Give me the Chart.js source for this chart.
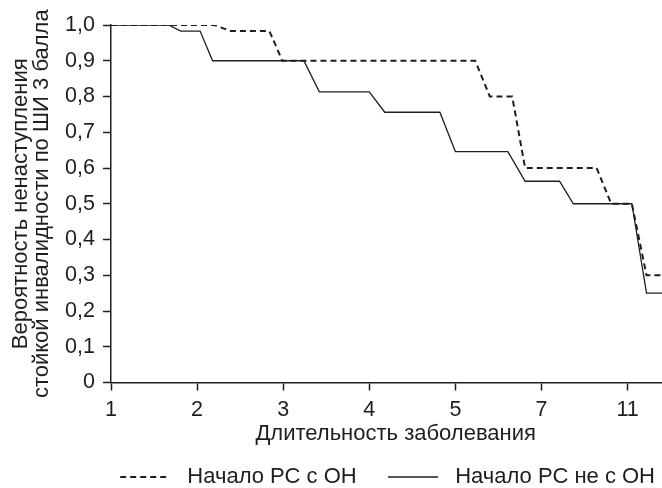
<!DOCTYPE html>
<html>
<head>
<meta charset="utf-8">
<script src="https://cdn.jsdelivr.net/npm/chart.js@4"></script>
<style>
  html, body { margin: 0; padding: 0; background: #fff; }
  #wrap { width: 662px; height: 488px; }
</style>
</head>
<body>
<div id="wrap"><canvas id="c" width="662" height="488"></canvas></div>
<script>
// X tick labels (equally spaced categories of disease duration)
const xTickLabels = ['1', '2', '3', '4', '5', '7', '11'];

// Series 1: "Начало РС с ОН" (dashed) – x in tick-index units
const onsetOnX = [0, 1.20, 1.39, 1.84, 1.99, 4.23, 4.40, 4.66, 4.81, 5.64, 5.81, 6.05, 6.22, 6.40];
const onsetOnY = [1.0, 1.0, 0.983, 0.983, 0.9, 0.9, 0.8, 0.8, 0.6, 0.6, 0.5, 0.5, 0.3, 0.3];

// Series 2: "Начало РС не с ОН" (solid)
const onsetOtherX = [0, 0.67, 0.81, 1.035, 1.18, 2.24, 2.42, 3.0, 3.18, 3.82, 4.0, 4.61, 4.81, 5.21, 5.37, 6.05, 6.22, 6.40];
const onsetOtherY = [1.0, 1.0, 0.983, 0.983, 0.9, 0.9, 0.813, 0.813, 0.756, 0.756, 0.646, 0.646, 0.563, 0.563, 0.5, 0.5, 0.25, 0.25];

const seriesNames = ['Начало РС с ОН', 'Начало РС не с ОН'];
const yTitle = ['Вероятность ненаступления', 'стойкой инвалидности по ШИ 3 балла'];
const xTitle = 'Длительность заболевания';

const toPoints = (xs, ys) => xs.map((x, i) => ({ x: x, y: ys[i] }));

const FONT = '"Liberation Sans", Arial, sans-serif';
const INK = '#1e1e1e';

new Chart(document.getElementById('c'), {
  type: 'line',
  data: {
    datasets: [
      {
        label: seriesNames[0],
        data: toPoints(onsetOnX, onsetOnY),
        borderColor: INK,
        borderWidth: 2,
        borderDash: [6, 4],
        pointRadius: 0,
        tension: 0,
        fill: false
      },
      {
        label: seriesNames[1],
        data: toPoints(onsetOtherX, onsetOtherY),
        borderColor: INK,
        borderWidth: 1.3,
        pointRadius: 0,
        tension: 0,
        fill: false
      }
    ]
  },
  options: {
    responsive: false,
    animation: false,
    devicePixelRatio: 1,
    layout: { padding: { top: 25, right: 0, left: 0, bottom: -10 } },
    plugins: {
      tooltip: { enabled: false },
      legend: {
        position: 'bottom',
        align: 'end',
        labels: {
          color: INK,
          font: { family: FONT, size: 22 },
          usePointStyle: true,
          pointStyle: 'line',
          pointStyleWidth: 50,
          padding: 7,
          generateLabels: (chart) => chart.data.datasets.map((ds, i) => ({
            text: i === 0 ? ' ' + ds.label + '    ' : ' ' + ds.label,
            strokeStyle: ds.borderColor,
            fillStyle: ds.borderColor,
            lineWidth: ds.borderWidth,
            lineDash: ds.borderDash || [],
            pointStyle: 'line',
            hidden: false,
            datasetIndex: i,
            fontColor: INK
          }))
        }
      }
    },
    scales: {
      x: {
        type: 'linear',
        min: 0,
        max: 6.4,
        afterFit: (s) => { s.height = 76.5; },
        border: { display: true, color: INK, width: 1.5 },
        grid: { display: true, drawOnChartArea: false, drawTicks: true, tickLength: 8, tickWidth: 1.5, tickColor: INK },
        ticks: {
          stepSize: 1,
          includeBounds: false,
          autoSkip: false,
          maxRotation: 0,
          padding: 7,
          color: INK,
          font: { family: FONT, size: 21.5 },
          callback: (v) => (Number.isInteger(v) && xTickLabels[v] !== undefined) ? xTickLabels[v] : ''
        },
        title: {
          display: true,
          text: '   ' + xTitle,
          color: INK,
          font: { family: FONT, size: 22 },
          padding: { top: 0, bottom: 11.8 }
        }
      },
      y: {
        min: 0,
        max: 1,
        afterFit: (s) => { s.width = 111; },
        border: { display: true, color: INK, width: 1.5 },
        grid: { display: true, drawOnChartArea: false, drawTicks: true, tickLength: 8, tickWidth: 1.5, tickColor: INK },
        ticks: {
          stepSize: 0.1,
          padding: 8,
          color: INK,
          font: { family: FONT, size: 21.5 },
          callback: (v) => {
            const r = Math.round(v * 10) / 10;
            return r === 0 ? '0' : r.toFixed(1).replace('.', ',');
          }
        },
        title: {
          display: true,
          text: yTitle,
          color: INK,
          font: { family: FONT, size: 22, lineHeight: 0.95 },
          padding: { top: 10.5, bottom: 0 }
        }
      }
    }
  }
});
</script>
</body>
</html>
